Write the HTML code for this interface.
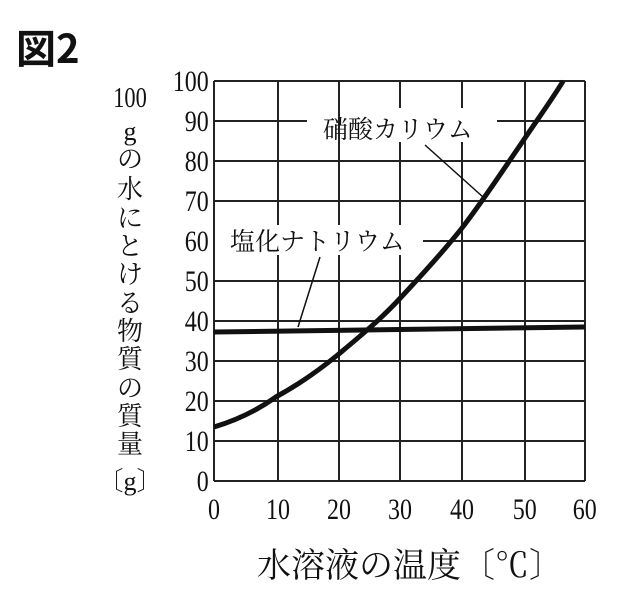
<!DOCTYPE html>
<html><head><meta charset="utf-8"><style>
html,body{margin:0;padding:0;background:#fff;}
svg{display:block}
.n{font-family:"Liberation Serif",serif;font-size:30px;fill:#111}
.j{font-family:"Liberation Serif","Noto Serif CJK SC","Noto Sans CJK JP",serif;font-size:26px;fill:#111}
</style></head><body>
<svg width="640" height="606" viewBox="0 0 640 606" xmlns="http://www.w3.org/2000/svg">
<rect width="640" height="606" fill="#fff"/>
<text x="16" y="63" font-family="'Noto Sans CJK JP',sans-serif" font-size="40" font-weight="bold" fill="#111">図2</text>
<g stroke="#222" stroke-width="2">
<line x1="214" y1="81" x2="585" y2="81"/>
<line x1="214" y1="121" x2="307" y2="121"/><line x1="497" y1="121" x2="585" y2="121"/>
<line x1="214" y1="161" x2="585" y2="161"/>
<line x1="214" y1="201" x2="585" y2="201"/>
<line x1="423" y1="241" x2="585" y2="241"/>
<line x1="214" y1="281" x2="585" y2="281"/>
<line x1="214" y1="321" x2="585" y2="321"/>
<line x1="214" y1="361" x2="585" y2="361"/>
<line x1="214" y1="401" x2="585" y2="401"/>
<line x1="214" y1="441" x2="585" y2="441"/>
<line x1="214" y1="481" x2="585" y2="481"/>
<line x1="214" y1="81" x2="214" y2="481"/>
<line x1="278" y1="81" x2="278" y2="225"/><line x1="278" y1="255" x2="278" y2="481"/>
<line x1="339" y1="81" x2="339" y2="225"/><line x1="339" y1="255" x2="339" y2="481"/>
<line x1="400" y1="81" x2="400" y2="108"/><line x1="400" y1="142" x2="400" y2="225"/><line x1="400" y1="255" x2="400" y2="481"/>
<line x1="462" y1="81" x2="462" y2="108"/><line x1="462" y1="142" x2="462" y2="481"/>
<line x1="525" y1="81" x2="525" y2="481"/>
<line x1="585" y1="81" x2="585" y2="481"/>
</g>
<line x1="214" y1="332" x2="585" y2="327" stroke="#111" stroke-width="5"/>
<path fill="none" stroke="#111" stroke-width="5" stroke-linejoin="round"
 d="M214,427 C234,421 255,412 275.8,397 C296,386 318,371 337.6,355 C358,338 380,320 399.4,299 C420,277 442,253 461.2,229 C483,201 503,170 523,141 C537,120 551,101 563.2,81"/>
<line x1="425" y1="145" x2="483" y2="197" stroke="#111" stroke-width="1.5"/>
<line x1="320" y1="257" x2="298" y2="327" stroke="#111" stroke-width="1.5"/>
<text x="323" y="138" class="j" style="font-size:25px">硝酸カリウム</text>
<text x="230" y="250" class="j" style="font-size:25px">塩化ナトリウム</text>
<g class="n" text-anchor="end" transform="scale(0.8,1)">
<text x="261" y="91">100</text>
<text x="261" y="131">90</text><text x="261" y="171">80</text><text x="261" y="211">70</text>
<text x="261" y="251">60</text><text x="261" y="291">50</text><text x="261" y="331">40</text>
<text x="261" y="371">30</text><text x="261" y="411">20</text><text x="261" y="451">10</text>
<text x="261" y="491">0</text>
</g>
<g class="n" text-anchor="middle" transform="scale(0.8,1)">
<text x="267.5" y="519">0</text><text x="347.5" y="519">10</text><text x="423.8" y="519">20</text>
<text x="500" y="519">30</text><text x="577.5" y="519">40</text><text x="656" y="519">50</text><text x="731" y="519">60</text>
</g>
<g class="j" text-anchor="middle">
<text x="130" y="107" class="n" style="font-size:28px" transform="translate(26,0) scale(0.8,1)">100</text>
<text x="130" y="140">g</text>
<text x="130" y="168">の</text>
<text x="130" y="198">水</text>
<text x="130" y="227">に</text>
<text x="130" y="255">と</text>
<text x="130" y="283">け</text>
<text x="130" y="312">る</text>
<text x="130" y="340">物</text>
<text x="130" y="368">質</text>
<text x="130" y="397">の</text>
<text x="130" y="425">質</text>
<text x="130" y="453">量</text>
<text x="130" y="490">〔g〕</text>
</g>
<text x="410" y="577" class="j" style="font-size:34px" text-anchor="middle">水溶液の温度〔℃〕</text>
</svg>
</body></html>
